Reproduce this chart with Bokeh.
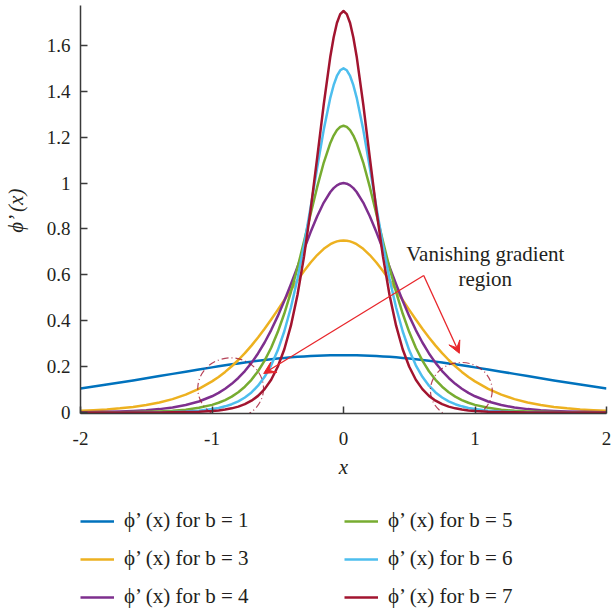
from bokeh.plotting import figure
from bokeh.layouts import column
from bokeh.models import (Legend, LegendItem, Label, Arrow, VeeHead, Range1d,
                          FixedTicker, ColumnDataSource)
from bokeh.embed import file_html
from bokeh.resources import INLINE

# ---- data (right half, x >= 0; curves are symmetric) ----
x_half = [0, 0.025, 0.05, 0.075, 0.1, 0.15, 0.2, 0.25, 0.3, 0.35, 0.4, 0.45, 0.5,
          0.55, 0.6, 0.65, 0.7, 0.75, 0.8, 0.85, 0.9, 0.95, 1.0, 1.1, 1.2, 1.3,
          1.4, 1.5, 1.6, 1.7, 1.8, 1.9, 2.0]

phi_b1 = [0.2500, 0.2500, 0.2498, 0.2497, 0.2494, 0.2486, 0.2475, 0.2461, 0.2445,
          0.2425, 0.2403, 0.2378, 0.2350, 0.2320, 0.2288, 0.2253, 0.2217, 0.2179,
          0.2139, 0.2098, 0.2055, 0.2011, 0.1966, 0.1874, 0.1779, 0.1683, 0.1587,
          0.1491, 0.1398, 0.1306, 0.1217, 0.1132, 0.1050]
phi_b3 = [0.7500, 0.7490, 0.7458, 0.7406, 0.7334, 0.7133, 0.6863, 0.6537, 0.6165,
          0.5761, 0.5337, 0.4904, 0.4474, 0.4055, 0.3652, 0.3272, 0.2916, 0.2588,
          0.2288, 0.2015, 0.1770, 0.1551, 0.1355, 0.1029, 0.0777, 0.0583, 0.0437,
          0.0326, 0.0243, 0.0181, 0.0134, 0.0100, 0.0074]
phi_b4 = [1.0000, 0.9975, 0.9901, 0.9778, 0.9611, 0.9151, 0.8556, 0.7864, 0.7116,
          0.6347, 0.5590, 0.4869, 0.4200, 0.3592, 0.3050, 0.2574, 0.2162, 0.1807,
          0.1505, 0.1250, 0.1036, 0.0856, 0.0707, 0.0479, 0.0324, 0.0218, 0.0147,
          0.0099, 0.0066, 0.0045, 0.0030, 0.0020, 0.0013]
phi_b5 = [1.2500, 1.2451, 1.2307, 1.2071, 1.1750, 1.0895, 0.9831, 0.8655, 0.7457,
          0.6306, 0.5250, 0.4313, 0.3505, 0.2824, 0.2259, 0.1797, 0.1423, 0.1123,
          0.0883, 0.0693, 0.0543, 0.0425, 0.0332, 0.0203, 0.0123, 0.0075, 0.0046,
          0.0028, 0.0017, 0.0010, 0.0006, 0.0004, 0.0002]
phi_b6 = [1.5000, 1.4916, 1.4668, 1.4266, 1.3727, 1.2330, 1.0674, 0.8949, 0.7304,
          0.5832, 0.4575, 0.3540, 0.2711, 0.2058, 0.1553, 0.1167, 0.0873, 0.0652,
          0.0486, 0.0361, 0.0269, 0.0199, 0.0148, 0.0081, 0.0045, 0.0025, 0.0013,
          0.0007, 0.0004, 0.0002, 0.0001, 0.0001, 0.0000]
phi_b7 = [1.7500, 1.7367, 1.6975, 1.6349, 1.5520, 1.3442, 1.1108, 0.8829, 0.6804,
          0.5119, 0.3783, 0.2758, 0.1992, 0.1428, 0.1019, 0.0724, 0.0514, 0.0363,
          0.0257, 0.0181, 0.0128, 0.0090, 0.0064, 0.0032, 0.0016, 0.0008, 0.0004,
          0.0002, 0.0001, 0.0000, 0.0000, 0.0000, 0.0000]

b_values = [1, 3, 4, 5, 6, 7]
series = [phi_b1, phi_b3, phi_b4, phi_b5, phi_b6, phi_b7]
colors = ["#0072BD", "#EDB120", "#7E2F8E", "#77AC30", "#4DBEEE", "#A2142F"]
legend_labels = ["\u03d5\u2019 (x) for b = %d" % b for b in b_values]

x_ticks = [-2, -1, 0, 1, 2]
x_tick_labels = ["-2", "-1", "0", "1", "2"]
y_ticks = [0, 0.2, 0.4, 0.6, 0.8, 1, 1.2, 1.4, 1.6]
y_tick_labels = ["0", "0.2", "0.4", "0.6", "0.8", "1", "1.2", "1.4", "1.6"]

# vanishing-gradient regions (ellipses) and annotation
region_x = [-0.858, 0.896]
region_y = [0.105, 0.096]
region_w = [0.50, 0.47]
region_h = [0.266, 0.244]
arrow_from = (0.61, 0.597)
arrow_to_x = [-0.607, 0.881]
arrow_to_y = [0.170, 0.258]


def full_x(xs):
    return [-v for v in xs[:0:-1]] + list(xs)


def full_y(ys):
    return list(ys[:0:-1]) + list(ys)


FONT = "Liberation Serif"
AX = "#3a3a3a"
TXT = "#231f20"

p = figure(frame_width=526, frame_height=408, output_backend="svg", toolbar_location=None,
           x_range=Range1d(-2, 2), y_range=Range1d(-0.0044, 1.774),
           min_border_left=80, min_border_right=7, min_border_top=5,
           min_border_bottom=75)
p.outline_line_color = None
p.grid.visible = False
p.background_fill_color = "white"
p.border_fill_color = "white"

sources = []
for ys, c in zip(series, colors):
    src = ColumnDataSource(dict(x=full_x(x_half), y=full_y(ys)))
    p.line("x", "y", source=src, line_color=c, line_width=2.5, line_join="round")
    sources.append(src)

p.ellipse(x=region_x, y=region_y, width=region_w, height=region_h,
          fill_color=None, line_color="#A2142F", line_alpha=0.8, line_width=1.2,
          line_dash="7 3 1 3")

for tx, ty in zip(arrow_to_x, arrow_to_y):
    p.add_layout(Arrow(end=VeeHead(size=12, fill_color="#E8262B", line_color="#E8262B"),
                       x_start=arrow_from[0], y_start=arrow_from[1], x_end=tx, y_end=ty,
                       line_color="#E8262B", line_width=1.3))

p.add_layout(Label(x=1.078, y=0.693, text="Vanishing gradient", text_align="center",
                   text_baseline="middle", text_font=FONT, text_font_size="21px",
                   text_color=TXT))
p.add_layout(Label(x=1.078, y=0.584, text="region", text_align="center",
                   text_baseline="middle", text_font=FONT, text_font_size="21px",
                   text_color=TXT))

xa = p.xaxis[0]
ya = p.yaxis[0]
xa.ticker = FixedTicker(ticks=x_ticks)
ya.ticker = FixedTicker(ticks=y_ticks)
xa.major_label_overrides = dict(zip(x_ticks, x_tick_labels))
ya.major_label_overrides = dict(zip(y_ticks, y_tick_labels))
for ax in (xa, ya):
    ax.axis_line_color = AX
    ax.axis_line_width = 1.5
    ax.major_tick_line_color = AX
    ax.major_tick_line_width = 1.5
    ax.major_tick_in = 7
    ax.major_tick_out = 0
    ax.minor_tick_in = 0
    ax.minor_tick_out = 0
    ax.major_label_text_font = FONT
    ax.major_label_text_font_size = "19px"
    ax.major_label_text_color = TXT
    ax.axis_label_text_font = FONT
    ax.axis_label_text_font_size = "21px"
    ax.axis_label_text_font_style = "italic"
    ax.axis_label_text_color = TXT
xa.axis_label = "x"
ya.axis_label = "\u03d5\u2019 (x)"
xa.major_label_standoff = 18
xa.axis_label_standoff = 7
ya.major_label_standoff = 10
ya.axis_label_standoff = 16

# ---- legend in a strip below the chart (same sources, out-of-view ranges) ----
leg = figure(frame_width=526, frame_height=123, output_backend="svg",
             toolbar_location=None,
             x_range=Range1d(10, 20), y_range=Range1d(10, 20),
             x_axis_type=None, y_axis_type=None,
             min_border_left=80, min_border_right=7, min_border_top=0,
             min_border_bottom=0)
leg.outline_line_color = None
leg.grid.visible = False
leg.background_fill_color = "white"
leg.border_fill_color = "white"

leg_renderers = []
for src, c in zip(sources, colors):
    leg_renderers.append(leg.line("x", "y", source=src, line_color=c, line_width=2.5))

items = [LegendItem(label=lab, renderers=[r]) for lab, r in zip(legend_labels, leg_renderers)]
legend = Legend(items=items, ncols=2, location=(0, 2), orientation="vertical",
                glyph_width=34, glyph_height=24, label_standoff=10, label_width=207,
                spacing=13, padding=0, margin=0, border_line_alpha=0,
                background_fill_alpha=0, label_text_font=FONT,
                label_text_font_size="21px", label_text_color=TXT)
leg.add_layout(legend, "center")

layout = column(p, leg, spacing=0)
open("out.html", "w").write(file_html(layout, INLINE))
